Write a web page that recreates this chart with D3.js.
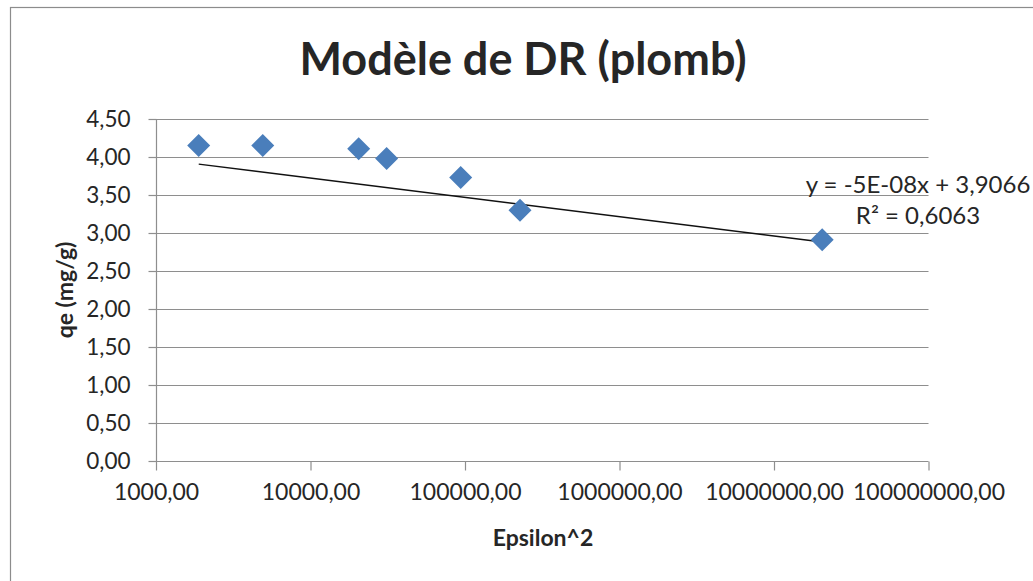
<!DOCTYPE html>
<html>
<head>
<meta charset="utf-8">
<script src="https://cdn.jsdelivr.net/npm/d3@7"></script>
<style>
  html, body { margin: 0; padding: 0; background: #fff; }
  svg { display: block; }
  text { font-family: Lato, "Open Sans", sans-serif; fill: #262626; }
</style>
</head>
<body>
<svg id="chart" width="1033" height="581"></svg>
<script>
// Dubinin–Radushkevich model data (lead)
const epsilon2 = [1890, 4910, 20500, 31100, 93800, 227000, 20500000];
const qe = [4.15, 4.15, 4.11, 3.98, 3.73, 3.30, 2.91];
const xTicks = [1e3, 1e4, 1e5, 1e6, 1e7, 1e8];
const yTicks = [0, 0.5, 1, 1.5, 2, 2.5, 3, 3.5, 4, 4.5];
// Linear trendline reported with the chart
const trendSlope = -5e-8;
const trendIntercept = 3.9066;
const rSquared = 0.6063;

const svg = d3.select("#chart");
const W = 1033, H = 581;
const plot = { left: 156, right: 928.5, top: 119, bottom: 461 };

const fmt = v => d3.format(".2f")(v).replace(".", ",");
const fmt4 = v => d3.format(".4f")(v).replace(".", ",");
const fmtSci = v => {
  // Excel-style scientific notation, e.g. -5E-08
  const [m, e] = v.toExponential(0).split("e");
  const ex = Math.abs(+e);
  return `${m}E${+e < 0 ? "-" : "+"}${ex < 10 ? "0" + ex : ex}`;
};

// chart frame
svg.append("rect")
  .attr("x", 10.5).attr("y", 7.5)
  .attr("width", W + 20).attr("height", H + 20)
  .attr("fill", "#fff").attr("stroke", "#8c8c8c").attr("stroke-width", 1.2);

const x = d3.scaleLog().domain([1e3, 1e8]).range([plot.left, plot.right]);
const y = d3.scaleLinear().domain([0, 4.5]).range([plot.bottom, plot.top]);

// horizontal gridlines
svg.append("g").selectAll("line").data(yTicks.filter(d => d > 0)).join("line")
  .attr("x1", plot.left).attr("x2", plot.right)
  .attr("y1", d => Math.round(y(d)) + 0.5).attr("y2", d => Math.round(y(d)) + 0.5)
  .attr("stroke", "#8e8e8e").attr("stroke-width", 1.2);

// y axis
const yAxis = svg.append("g")
  .attr("transform", `translate(${plot.left + 0.5},0)`)
  .call(d3.axisLeft(y).tickValues(yTicks).tickFormat(fmt).tickSize(8).tickPadding(18));
yAxis.select(".domain").attr("stroke", "#8e8e8e").attr("stroke-width", 1.2)
  .attr("d", `M0,${plot.top}V${plot.bottom}`);
yAxis.selectAll(".tick line").attr("stroke", "#8e8e8e").attr("stroke-width", 1.2);
yAxis.selectAll(".tick text")
  .style("font-family", "Lato, sans-serif").style("font-size", "22.5px").attr("fill", "#262626");

// x axis
const xAxis = svg.append("g")
  .attr("transform", `translate(0,${Math.round(plot.bottom) + 0.5})`)
  .call(d3.axisBottom(x).tickValues(xTicks).tickFormat(fmt).tickSize(9).tickPadding(13));
xAxis.select(".domain").attr("stroke", "#8e8e8e").attr("stroke-width", 1.2)
  .attr("d", `M${plot.left},0H${plot.right}`);
xAxis.selectAll(".tick line").attr("stroke", "#8e8e8e").attr("stroke-width", 1.2);
xAxis.selectAll(".tick text")
  .style("font-family", "Lato, sans-serif").style("font-size", "23px").attr("fill", "#262626");

// trendline (evaluated at the data extremes)
const xMin = d3.min(epsilon2), xMax = d3.max(epsilon2);
const trend = [xMin, xMax].map(v => [v, trendSlope * v + trendIntercept]);
svg.append("path")
  .datum(trend)
  .attr("d", d3.line().x(d => x(d[0])).y(d => y(d[1])))
  .attr("fill", "none").attr("stroke", "#111").attr("stroke-width", 1.3);

// diamond markers
const r = 11.5;
const diamond = `M0,${-r}L${r},0L0,${r}L${-r},0Z`;
svg.append("g").selectAll("path").data(epsilon2.map((v, i) => [v, qe[i]])).join("path")
  .attr("d", diamond)
  .attr("transform", d => `translate(${x(d[0])},${y(d[1])})`)
  .attr("fill", "#4a7ebb");

// trendline equation
const eq = svg.append("g").attr("transform", "translate(918,0)");
eq.append("text").attr("y", 193).attr("text-anchor", "middle")
  .style("font-size", "24px")
  .text(`y = ${fmtSci(trendSlope)}x + ${fmt4(trendIntercept)}`);
eq.append("text").attr("y", 224).attr("text-anchor", "middle")
  .style("font-size", "24px")
  .text(`R² = ${fmt4(rSquared)}`);

// title
svg.append("text")
  .attr("x", 523).attr("y", 75).attr("text-anchor", "middle")
  .style("font-size", "45px").style("font-weight", "bold").attr("fill", "#000")
  .text("Modèle de DR (plomb)");

// axis titles
svg.append("text")
  .attr("x", 543).attr("y", 546).attr("text-anchor", "middle")
  .style("font-size", "23px").style("font-weight", "bold").attr("fill", "#000")
  .text("Epsilon^2");
svg.append("text")
  .attr("transform", "translate(73,290) rotate(-90)")
  .attr("text-anchor", "middle")
  .style("font-size", "23px").style("font-weight", "bold").attr("fill", "#000")
  .text("qe (mg/g)");
</script>
</body>
</html>
